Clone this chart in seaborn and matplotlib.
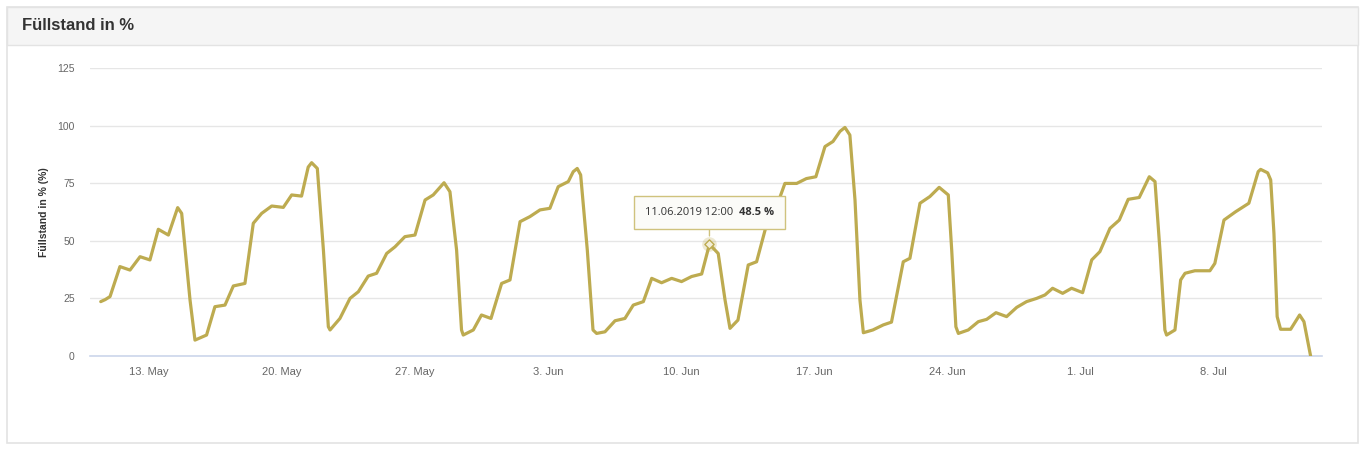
import numpy as np
import pandas as pd
import matplotlib
matplotlib.use("Agg")
import matplotlib.pyplot as plt
from matplotlib.patches import Rectangle
from matplotlib.offsetbox import TextArea, HPacker, AnnotationBbox
import seaborn as sns

# ---------------- data ----------------
start_date = "2019-05-13"
# offsets in days from 13 May 2019 00:00
day_offset = [
    -2.54, -2.3, -2.05, -1.53, -1.0, -0.47, 0.05, 0.49, 1.02, 1.51, 1.72, 2.16, 2.42,
    3.03, 3.47, 4.0, 4.44, 5.05, 5.49, 5.93, 6.46, 7.07, 7.51, 8.03, 8.38, 8.56, 8.86, 9.18,
    9.44, 9.53, 10.05, 10.58, 11.02, 11.54, 11.98, 12.51, 12.95, 13.47, 14.0, 14.53,
    14.96, 15.53, 15.84, 16.19, 16.45, 16.54, 17.07, 17.5, 18.0, 18.56, 19.0, 19.53,
    20.05, 20.58, 21.1, 21.54, 22.07, 22.33, 22.54, 22.72, 23.07, 23.37, 23.56, 24.0, 24.53,
    25.05, 25.49, 26.02, 26.46, 26.98, 27.51, 28.03, 28.56, 29.09, 29.5, 29.96, 30.32,
    30.58, 31.0, 31.54, 31.98, 32.5, 33.03, 33.47, 34.09, 34.6, 35.1, 35.58, 36.0,
    36.37, 36.63, 36.89, 37.16, 37.42, 37.6, 38.1, 38.65, 39.08, 39.7, 40.05, 40.58, 41.1,
    41.59, 42.07, 42.25, 42.47, 42.6, 43.12, 43.65, 44.09, 44.58, 45.14, 45.67, 46.19,
    46.72, 47.16, 47.56, 48.09, 48.56, 49.14, 49.62, 50.05, 50.58, 51.07, 51.54, 52.12,
    52.65, 52.95, 53.21, 53.47, 53.56, 54.0, 54.3, 54.53, 55.05, 55.84, 56.1, 56.58,
    57.19, 57.89, 58.38, 58.51, 58.88, 59.04, 59.21, 59.38, 59.56, 60.09, 60.56, 60.79, 61.14,
]
fill_level = [
    23.6, 24.5, 25.8, 38.8, 37.3, 43.1, 41.7, 55.0, 52.5, 64.4, 61.9, 24.3, 6.9,
    9.1, 21.4, 22.1, 30.4, 31.5, 57.6, 61.9, 65.1, 64.5, 69.9, 69.4, 82.0, 83.9, 81.4, 46.0,
    12.7, 11.3, 16.3, 25.0, 27.9, 34.7, 35.9, 44.5, 47.4, 51.8, 52.5, 67.7,
    69.9, 75.2, 71.3, 46.0, 11.3, 9.1, 11.3, 17.8, 16.3, 31.5, 33.0, 58.3,
    60.5, 63.4, 64.1, 73.5, 75.7, 80.0, 81.4, 78.6, 46.0, 11.3, 9.8, 10.5, 15.3,
    16.3, 22.1, 23.6, 33.7, 31.8, 33.7, 32.3, 34.5, 35.6, 48.5, 44.5, 24.3,
    12.0, 15.6, 39.5, 40.9, 56.9, 64.8, 74.9, 74.9, 77.0, 77.8, 90.9, 93.1,
    97.5, 99.2, 95.9, 67.7, 24.3, 10.1, 11.3, 13.5, 14.7, 40.9, 42.4, 66.3, 69.2,
    73.2, 69.9, 46.0, 12.7, 9.8, 11.3, 14.9, 15.9, 18.8, 17.1, 21.1, 23.6,
    25.0, 26.5, 29.4, 27.2, 29.4, 27.5, 41.7, 45.3, 55.4, 59.0, 68.0, 68.8,
    77.8, 75.7, 46.0, 11.3, 9.1, 11.3, 33.0, 35.9, 37.0, 37.0, 40.2, 59.0,
    62.6, 66.3, 80.0, 81.0, 79.5, 76.4, 53.3, 17.1, 11.6, 11.6, 17.8, 14.9, 0.0,
]
y_ticks = [0, 25, 50, 75, 100, 125]
x_tick_dates = ["2019-05-13", "2019-05-20", "2019-05-27", "2019-06-03", "2019-06-10",
                "2019-06-17", "2019-06-24", "2019-07-01", "2019-07-08"]
x_tick_labels = ["13. May", "20. May", "27. May", "3. Jun", "10. Jun",
                 "17. Jun", "24. Jun", "1. Jul", "8. Jul"]
panel_title = "Füllstand in %"
y_title = "Füllstand in % (%)"
tooltip_time = "2019-06-11 12:00"
tooltip_value = 48.5
tooltip_label = "11.06.2019 12:00"

# ---------------- figure ----------------
sns.set_theme(style="white")
plt.rcParams["font.family"] = ["Liberation Sans", "DejaVu Sans"]

LINE_COLOR = "#bdab50"
W, H = 1366, 450
fig = plt.figure(figsize=(W / 100, H / 100), dpi=100)
fig.patch.set_facecolor("white")

def fx(px):
    return px / W

def fy(py):
    return 1 - py / H

# panel frame + header
fig.patches.append(Rectangle((fx(7), fy(443)), fx(1358) - fx(7), fy(7) - fy(443),
                             transform=fig.transFigure, facecolor="white",
                             edgecolor="#e3e3e3", lw=1.2, zorder=-2))
fig.patches.append(Rectangle((fx(7), fy(45)), fx(1358) - fx(7), fy(7) - fy(45),
                             transform=fig.transFigure, facecolor="#f5f5f5",
                             edgecolor="#e3e3e3", lw=1.0, zorder=-1))
fig.text(fx(22), fy(26), panel_title, fontsize=12, fontweight="bold",
         color="#333333", va="center", ha="left", family="Liberation Sans")

ax = fig.add_axes([fx(90), fy(356), fx(1322) - fx(90), fy(68) - fy(356)])
ax.set_zorder(2)
ax.patch.set_alpha(0)

df = pd.DataFrame({
    "time": pd.Timestamp(start_date) + pd.to_timedelta(day_offset, unit="D"),
    "value": fill_level,
})
sns.lineplot(data=df, x="time", y="value", ax=ax, color=LINE_COLOR, lw=2.3,
             solid_joinstyle="round", solid_capstyle="round", zorder=3)

x0 = pd.Timestamp(start_date) + pd.Timedelta(days=-3.105)
x1 = pd.Timestamp(start_date) + pd.Timedelta(days=61.74)
ax.set_xlim(x0, x1)
ax.set_ylim(0, 125)

ax.set_yticks(y_ticks)
ax.set_yticklabels([str(t) for t in y_ticks], fontsize=7.5, color="#666666")
ax.yaxis.grid(True, color="#e6e6e6", lw=1)
ax.xaxis.grid(False)
ax.tick_params(axis="y", length=0, pad=11)

ax.set_xticks(pd.to_datetime(x_tick_dates))
ax.set_xticklabels(x_tick_labels, fontsize=8, color="#666666")
ax.tick_params(axis="x", length=6, width=1, color="#ccd6eb", pad=2)

for s in ["top", "right", "left"]:
    ax.spines[s].set_visible(False)
ax.spines["bottom"].set_color("#ccd6eb")
ax.spines["bottom"].set_linewidth(1.2)

ax.set_xlabel("")
ax.set_ylabel(y_title, fontsize=7.5, fontweight="bold", color="#333333", labelpad=6)

# tooltip marker with halo
tt = pd.Timestamp(tooltip_time)
ax.scatter([tt], [tooltip_value], s=110, color=LINE_COLOR, alpha=0.25, zorder=4, lw=0)
ax.scatter([tt], [tooltip_value], s=22, marker="D", facecolor="#f3eed8",
           edgecolor=LINE_COLOR, lw=1, zorder=5)

# tooltip box (regular date + bold value in one frame)
ta_date = TextArea(tooltip_label, textprops=dict(fontsize=8, color="#333333",
                                                 family="Open Sans"))
ta_val = TextArea(f"{tooltip_value} %", textprops=dict(fontsize=8, color="#333333",
                                                       family="Open Sans",
                                                       fontweight="bold"))
pack = HPacker(children=[ta_date, ta_val], align="center", pad=0, sep=4)
ab = AnnotationBbox(
    pack, (tt, tooltip_value), xybox=(0, 23), xycoords="data",
    boxcoords="offset points", box_alignment=(0.5, 0.5),
    bboxprops=dict(boxstyle="square,pad=0.7", facecolor="#fbfbf8",
                   edgecolor="#cfc27d", lw=1),
    arrowprops=dict(arrowstyle="-", color="#cfc27d", lw=1, shrinkA=0, shrinkB=6),
    zorder=7,
)
ax.add_artist(ab)

fig.savefig("out.png", dpi=100, facecolor="white")
